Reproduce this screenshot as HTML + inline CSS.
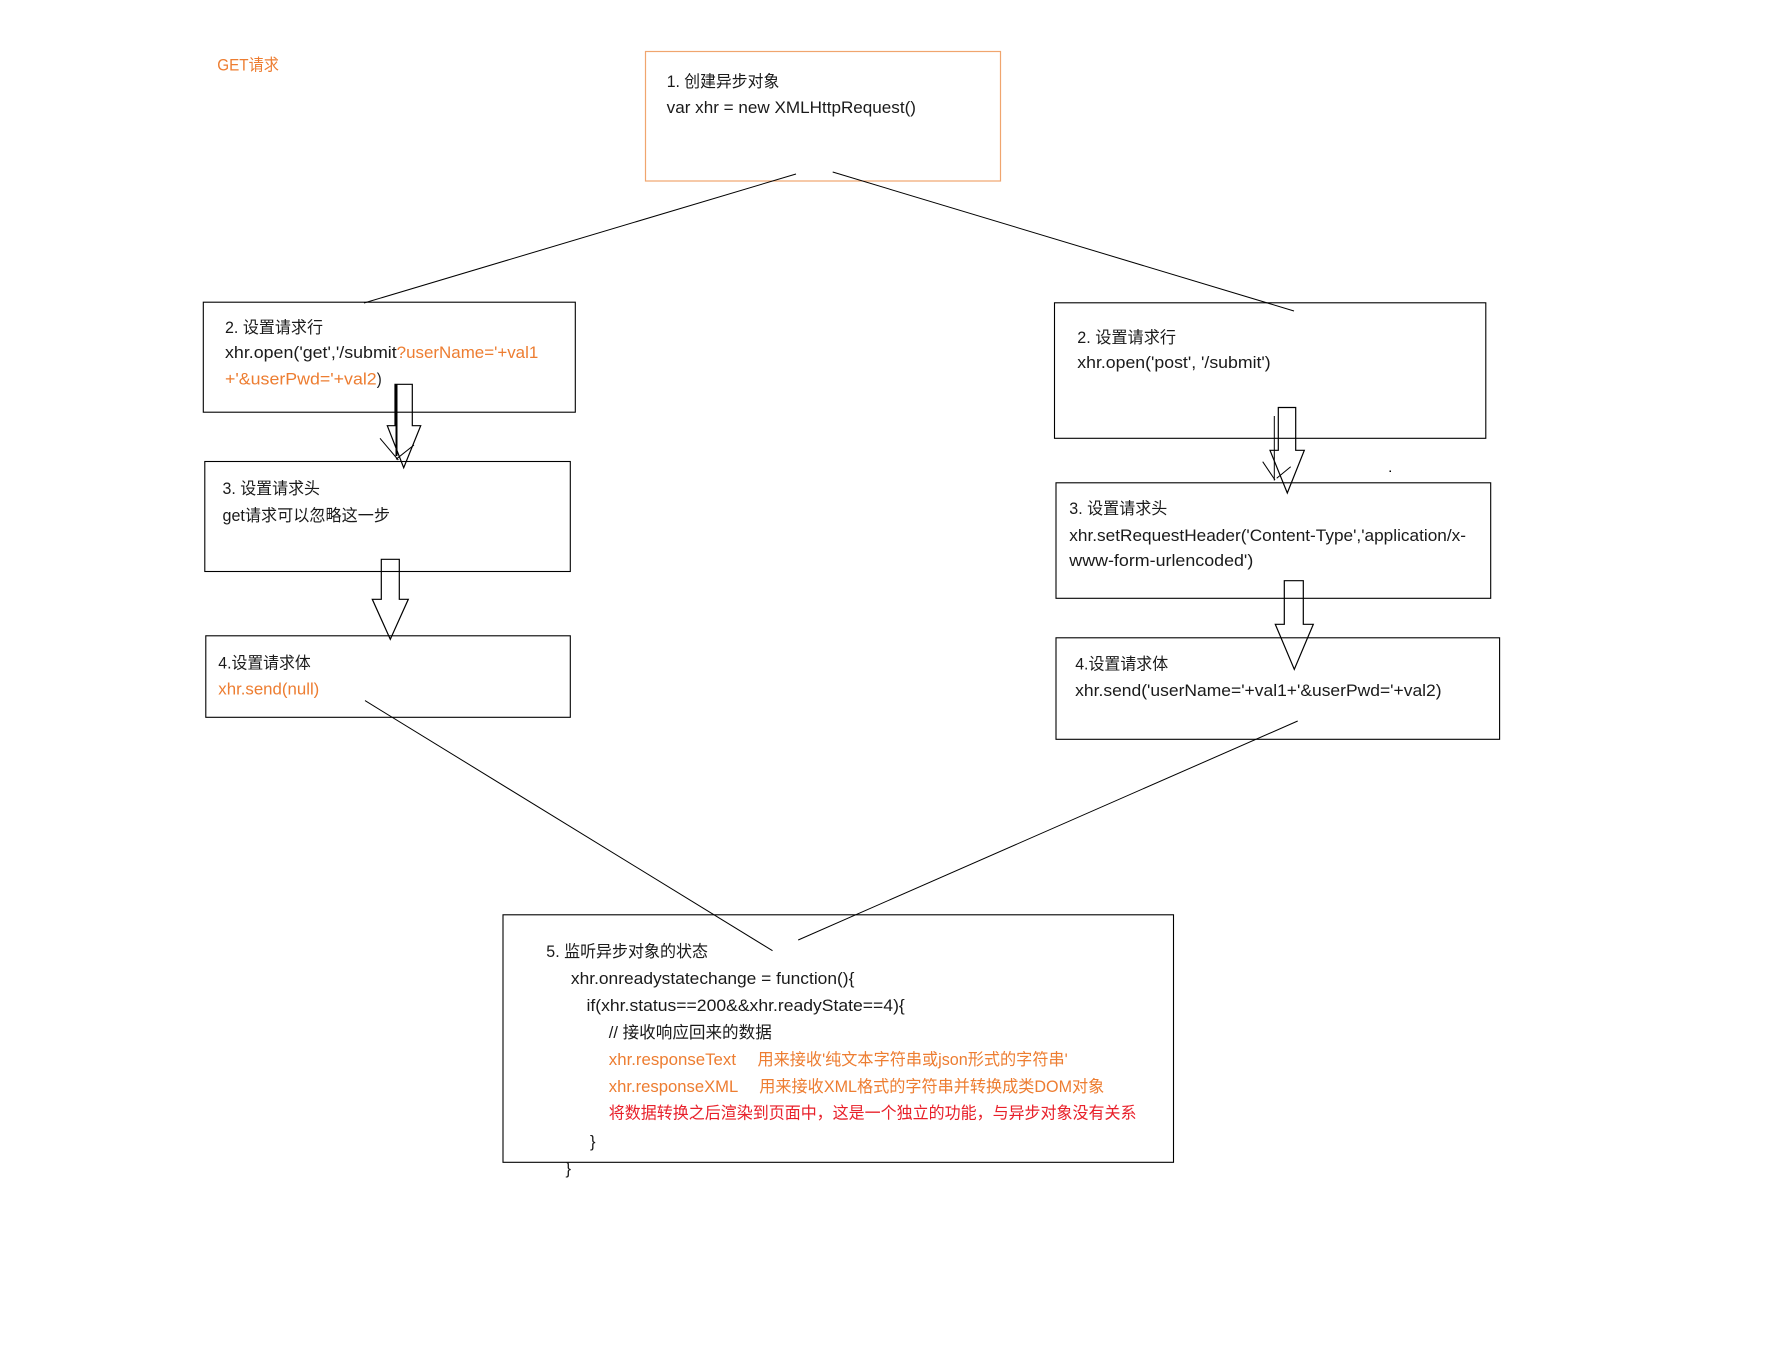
<!DOCTYPE html>
<html>
<head>
<meta charset="utf-8">
<style>
  html, body { margin: 0; padding: 0; background: #ffffff; }
  body { width: 1771px; height: 1368px; overflow: hidden; }
  svg { display: block; }
  text { font-family: "Liberation Sans", "Noto Sans CJK SC", "Microsoft YaHei", sans-serif; font-size: 16.5px; fill: #1a1a1a; }
  .o { fill: #ed7d31; }
  .r { fill: #e8202a; }
</style>
</head>
<body>
<svg width="1771" height="1368" viewBox="0 0 1771 1368" xmlns="http://www.w3.org/2000/svg">
  <rect x="0" y="0" width="1771" height="1368" fill="#ffffff"/>

  <!-- Box 1 -->
  <rect x="645.5" y="51.5" width="355" height="129.5" fill="none" stroke="#f0a56e" stroke-width="1.2"/>

  <!-- connectors from box 1 -->
  <line x1="796" y1="174" x2="364" y2="303" stroke="#000" stroke-width="1"/>
  <line x1="832.7" y1="172" x2="1294" y2="311" stroke="#000" stroke-width="1"/>

  <!-- Left box 2 -->
  <rect x="203.3" y="302.2" width="372" height="110" fill="none" stroke="#000" stroke-width="1.1"/>

  <!-- Left arrow 1 -->
  <polygon points="395,384.3 412.3,384.3 412.3,425.7 420.7,425.7 403.7,467.7 387.3,425.7 395,425.7" fill="none" stroke="#000" stroke-width="1.2"/>
  <line x1="396.5" y1="384.3" x2="396.5" y2="456" stroke="#000" stroke-width="2"/>
  <line x1="380" y1="438.3" x2="398.3" y2="460" stroke="#000" stroke-width="1"/>
  <line x1="396" y1="459.3" x2="414" y2="445" stroke="#000" stroke-width="1"/>

  <!-- Left box 3 -->
  <rect x="204.8" y="461.5" width="365.5" height="110" fill="none" stroke="#000" stroke-width="1.1"/>

  <!-- Left arrow 2 -->
  <polygon points="381.3,559.3 399.3,559.3 399.3,599.3 408.3,599.3 390.3,639.3 372.3,599.3 381.3,599.3" fill="none" stroke="#000" stroke-width="1.2"/>

  <!-- Left box 4 -->
  <rect x="205.8" y="635.8" width="364.5" height="81.5" fill="none" stroke="#000" stroke-width="1.1"/>

  <!-- Right box 2 -->
  <rect x="1054.5" y="302.8" width="431.3" height="135.5" fill="none" stroke="#000" stroke-width="1.1"/>

  <!-- Right arrow 1 -->
  <polygon points="1278.3,407.5 1295.7,407.5 1295.7,450.3 1304.3,450.3 1287.3,493 1270,450.3 1278.3,450.3" fill="none" stroke="#000" stroke-width="1.2"/>
  <line x1="1274.3" y1="416" x2="1274.3" y2="480.5" stroke="#000" stroke-width="1"/>
  <line x1="1262.7" y1="461.7" x2="1275" y2="480" stroke="#000" stroke-width="1"/>
  <line x1="1276.7" y1="478.3" x2="1290.7" y2="466.7" stroke="#000" stroke-width="1"/>
  <rect x="1389.5" y="470.5" width="1.5" height="1.5" fill="#000"/>

  <!-- Right box 3 -->
  <rect x="1056" y="482.8" width="434.7" height="115.5" fill="none" stroke="#000" stroke-width="1.1"/>

  <!-- Right arrow 2 -->
  <polygon points="1284.3,580.7 1303.3,580.7 1303.3,624.3 1313.3,624.3 1294.3,669.3 1275.3,624.3 1284.3,624.3" fill="none" stroke="#000" stroke-width="1.2"/>

  <!-- Right box 4 -->
  <rect x="1056" y="637.8" width="443.6" height="101.5" fill="none" stroke="#000" stroke-width="1.1"/>

  <!-- connectors into box 5 -->
  <line x1="365" y1="700.6" x2="772.5" y2="950.7" stroke="#000" stroke-width="1"/>
  <line x1="1297.7" y1="721" x2="798.2" y2="940" stroke="#000" stroke-width="1"/>

  <!-- Box 5 -->
  <rect x="503" y="914.8" width="670.5" height="247.5" fill="none" stroke="#000" stroke-width="1.1"/>

  <g transform="translate(0,-1.5)">
    <text class="o" x="217.3" y="72" textLength="61.7" lengthAdjust="spacingAndGlyphs">GET请求</text>

    <text x="666.7" y="88.7" textLength="112.6" lengthAdjust="spacingAndGlyphs">1. 创建异步对象</text>
    <text x="666.7" y="114.3" textLength="249.3" lengthAdjust="spacingAndGlyphs">var xhr = new XMLHttpRequest()</text>

    <text x="225" y="334.3" textLength="98" lengthAdjust="spacingAndGlyphs">2. 设置请求行</text>
    <text x="225" y="359.3" textLength="171.7" lengthAdjust="spacingAndGlyphs">xhr.open('get','/submit</text>
    <text class="o" x="396.7" y="359.3" textLength="141.6" lengthAdjust="spacingAndGlyphs">?userName='+val1</text>
    <text class="o" x="225" y="386" textLength="151.7" lengthAdjust="spacingAndGlyphs">+'&amp;userPwd='+val2</text>
    <text x="376.7" y="386" textLength="5" lengthAdjust="spacingAndGlyphs">)</text>

    <text x="222.5" y="495.3" textLength="97.5" lengthAdjust="spacingAndGlyphs">3. 设置请求头</text>
    <text x="222.5" y="522.7" textLength="167.5" lengthAdjust="spacingAndGlyphs">get请求可以忽略这一步</text>

    <text x="218.3" y="670" textLength="92.4" lengthAdjust="spacingAndGlyphs">4.设置请求体</text>
    <text class="o" x="218.3" y="696" textLength="101" lengthAdjust="spacingAndGlyphs">xhr.send(null)</text>

    <text x="1077.3" y="344.3" textLength="98.7" lengthAdjust="spacingAndGlyphs">2. 设置请求行</text>
    <text x="1077.3" y="369.3" textLength="193.4" lengthAdjust="spacingAndGlyphs">xhr.open('post', '/submit')</text>

    <text x="1069.3" y="515.3" textLength="98" lengthAdjust="spacingAndGlyphs">3. 设置请求头</text>
    <text x="1069.3" y="542.7" textLength="396.7" lengthAdjust="spacingAndGlyphs">xhr.setRequestHeader('Content-Type','application/x-</text>
    <text x="1069.3" y="567.7" textLength="184" lengthAdjust="spacingAndGlyphs">www-form-urlencoded')</text>

    <text x="1075.2" y="671" textLength="93" lengthAdjust="spacingAndGlyphs">4.设置请求体</text>
    <text x="1075.2" y="697.7" textLength="366.4" lengthAdjust="spacingAndGlyphs">xhr.send('userName='+val1+'&amp;userPwd='+val2)</text>

    <text x="546.3" y="958.3" textLength="161.7" lengthAdjust="spacingAndGlyphs">5. 监听异步对象的状态</text>
    <text x="570.9" y="985.3" textLength="283.5" lengthAdjust="spacingAndGlyphs">xhr.onreadystatechange = function(){</text>
    <text x="586.5" y="1012.7" textLength="318.3" lengthAdjust="spacingAndGlyphs">if(xhr.status==200&amp;&amp;xhr.readyState==4){</text>
    <text x="608.8" y="1039.3" textLength="163" lengthAdjust="spacingAndGlyphs">// 接收响应回来的数据</text>
    <text class="o" x="608.8" y="1066.7" textLength="127.2" lengthAdjust="spacingAndGlyphs">xhr.responseText</text>
    <text class="o" x="757.5" y="1066.7" textLength="310.2" lengthAdjust="spacingAndGlyphs">用来接收'纯文本字符串或json形式的字符串'</text>
    <text class="o" x="608.8" y="1093.3" textLength="129.5" lengthAdjust="spacingAndGlyphs">xhr.responseXML</text>
    <text class="o" x="759.3" y="1093.3" textLength="345" lengthAdjust="spacingAndGlyphs">用来接收XML格式的字符串并转换成类DOM对象</text>
    <text class="r" x="608.8" y="1120" textLength="527.7" lengthAdjust="spacingAndGlyphs">将数据转换之后渲染到页面中，这是一个独立的功能，与异步对象没有关系</text>
    <text x="590" y="1148.3">}</text>
    <text x="565.5" y="1175.3">}</text>
  </g>
</svg>
</body>
</html>
